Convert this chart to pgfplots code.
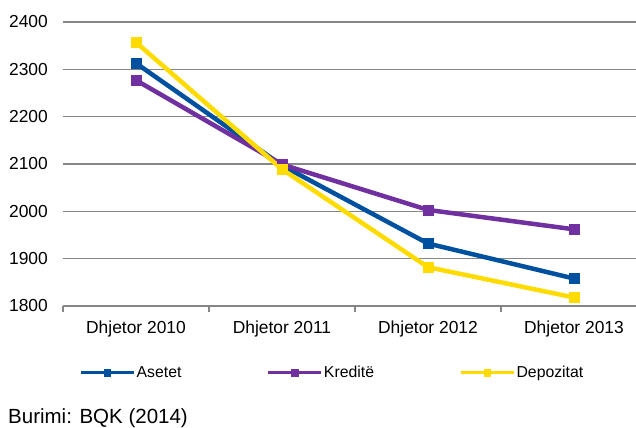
\documentclass[border=0pt]{standalone}
\usepackage{fontspec}
\setmainfont{Liberation Sans}
\usepackage{pgfplots}
\pgfplotsset{compat=1.18}

\definecolor{asetBlue}{RGB}{0,80,160}
\definecolor{kredPurple}{RGB}{112,48,160}
\definecolor{depYellow}{RGB}{255,219,0}
\definecolor{gridGray}{RGB}{134,134,134}

\newcommand\tickfont{\fontsize{17.4bp}{20bp}\selectfont}
\newcommand\legendfont{\fontsize{15.8bp}{18bp}\selectfont}
\newcommand\sourcefont{\fontsize{20.5bp}{24bp}\selectfont}

\begin{document}
\begin{tikzpicture}
\useasboundingbox (0,0) rectangle (636bp,428bp);
\begin{axis}[
  at={(63bp,122bp)}, anchor=south west,
  scale only axis, width=584bp, height=284bp,
  xmin=-0.5, xmax=3.5, ymin=1800, ymax=2400,
  axis x line*=bottom, axis y line*=left,
  x axis line style={draw=gridGray, line width=1.3bp},
  y axis line style={draw=none},
  xtick={0,1,2,3},
  xticklabels={Dhjetor 2010,Dhjetor 2011,Dhjetor 2012,Dhjetor 2013},
  ytick={1800,1900,...,2400},
  major tick length=0pt,
  ymajorgrids,
  major grid style={draw=gridGray, line width=1.3bp},
  extra x ticks={-0.5,0.5,1.5,2.5,3.5},
  extra x tick labels={},
  extra x tick style={grid=none, tick align=outside, major tick length=6bp,
    tick style={draw=gridGray, line width=1.3bp}},
  tick label style={font=\tickfont},
  /pgf/number format/assume math mode=true,
  /pgf/number format/1000 sep={},
  yticklabel style={anchor=east, inner sep=0pt, xshift=-15bp},
  xticklabel style={anchor=north, inner sep=0pt, yshift=-14.5bp},
  every axis plot/.append style={line width=4.5bp, mark=square*, mark size=5bp,
    mark options={solid, line width=0.5bp}},
  legend columns=3,
  legend style={at={(axis description cs:0.0274,-0.2359)}, anchor=west,
    draw=none, fill=none, inner sep=0pt, font=\legendfont,
    nodes={inner sep=0pt},
    /tikz/every odd column/.append style={column sep=1.5bp},
    /tikz/every even column/.append style={column sep=85bp}},
  legend cell align=left,
  legend image code/.code={
    \draw[line width=3bp, mark size=3.3bp, mark repeat=2, mark phase=2]
      plot coordinates {(0bp,0bp) (26.5bp,0bp) (53bp,0bp)};},
]
\addplot[color=asetBlue] coordinates {(0,2313) (1,2097) (2,1932) (3,1858)};
\addlegendentry{Asetet}
\addplot[color=kredPurple] coordinates {(0,2277) (1,2099) (2,2003) (3,1962)};
\addlegendentry{Kreditë}
\addplot[color=depYellow] coordinates {(0,2357) (1,2089) (2,1882) (3,1818)};
\addlegendentry{Depozitat}
\end{axis}
\node[anchor=base west, inner sep=0pt, font=\sourcefont] at (8bp,4.5bp) {Burimi: BQK (2014)};
\end{tikzpicture}
\end{document}
